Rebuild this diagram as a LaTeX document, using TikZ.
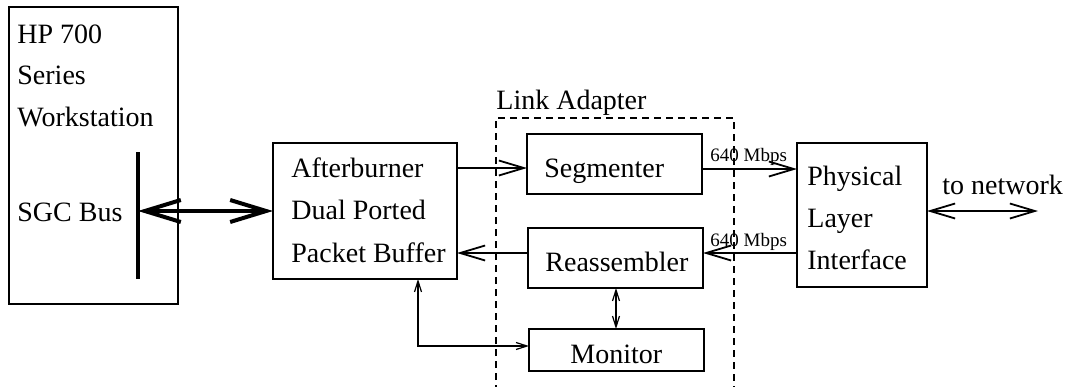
\documentclass[tikz,border=0pt]{standalone}
\usepackage{fontspec}
\setmainfont{Liberation Serif}
\usetikzlibrary{arrows.meta}
\begin{document}
\begin{tikzpicture}[x=0.5pt,y=-0.5pt,
  box/.style={draw,line width=0.8pt,inner sep=0pt,outer sep=0pt},
  txt/.style={anchor=base west,inner sep=0pt,font=\fontsize{14}{17}\selectfont},
  small/.style={anchor=base west,inner sep=0pt,font=\fontsize{9.5}{11}\selectfont},
  arr/.style={line width=0.9pt,-{Straight Barb[length=12.5pt,width=7.5pt,line width=0.9pt]}},
  darr/.style={line width=0.9pt,{Straight Barb[length=12.5pt,width=7.5pt,line width=0.9pt]}-{Straight Barb[length=12.5pt,width=7.5pt,line width=0.9pt]}},
  sarr/.style={line width=0.6pt,{Straight Barb[length=5.5pt,width=3.5pt,line width=0.6pt]}-{Straight Barb[length=5.5pt,width=3.5pt,line width=0.6pt]}},
  busarr/.style={line width=2pt,{Straight Barb[length=18pt,width=11pt,line width=2pt]}-{Straight Barb[length=18pt,width=11pt,line width=2pt]}},
  dashbox/.style={draw,line width=0.7pt,dash pattern=on 3.5pt off 2.5pt}
]
\useasboundingbox (0,0) rectangle (1072,386);
\fill[white] (0,0) rectangle (1072,386);

% boxes
\node[box,minimum width=84.5pt,minimum height=148.5pt] (ws) at (93.5,155.5) {};
\node[box,minimum width=92pt,minimum height=68pt] (ab) at (365,211) {};
\node[box,minimum width=87.5pt,minimum height=30pt] (seg) at (614.5,164) {};
\node[box,minimum width=87.5pt,minimum height=30pt] (reas) at (615.5,258) {};
\node[box,minimum width=87.5pt,minimum height=21pt] (mon) at (616.5,350) {};
\node[box,minimum width=65pt,minimum height=72pt] (pli) at (862,215) {};
\draw[dashbox] (496,392) -- (496,118) -- (734,118) -- (734,392);

% texts
\node[txt] (t1) at (17,43) {HP 700};
\node[txt] (t2) at (17,84) {Series};
\node[txt] (t3) at (17,126) {Workstation};
\node[txt] (t4) at (17,221) {SGC Bus};
\node[txt] (t5) at (291,177) {Afterburner};
\node[txt] (t6) at (291,219) {Dual Ported};
\node[txt] (t7) at (291,262) {Packet Buffer};
\node[txt] (t8) at (496,109) {Link Adapter};
\node[txt] (t9) at (544,177) {Segmenter};
\node[txt] (t10) at (545,271) {Reassembler};
\node[txt] (t11) at (570,363) {Monitor};
\node[txt] (t12) at (807,185) {Physical};
\node[txt] (t13) at (807,227) {Layer};
\node[txt] (t14) at (807,269) {Interface};
\node[txt] (t15) at (942,194) {to network};
\node[small] (r1) at (710,161) {640 Mbps};
\node[small] (r2) at (710,246) {640 Mbps};

% bus
\coordinate (bustop) at (138,152);
\coordinate (busbot) at (138,279);
\coordinate (busmid) at (138,211);
\draw[line width=2pt] (bustop) -- (busbot);
\draw[busarr] (busmid) -- (ab.west);

% connectors
\draw[arr] (ab.east |- 0,168) -- (seg.west |- 0,168);
\draw[arr] (reas.west |- 0,253) -- (ab.east |- 0,253);
\draw[arr] (seg.east |- 0,169) -- (pli.west |- 0,169);
\draw[arr] (pli.west |- 0,253) -- (reas.east |- 0,253);
\coordinate (net) at (1038,211);
\draw[darr] (pli.east |- net) -- (net);
\draw[sarr] (reas.south -| 616,0) -- (mon.north -| 616,0);
\draw[sarr] (ab.south -| 418,0) -- (418,346) -- (mon.west |- 0,346);
\end{tikzpicture}
\end{document}
